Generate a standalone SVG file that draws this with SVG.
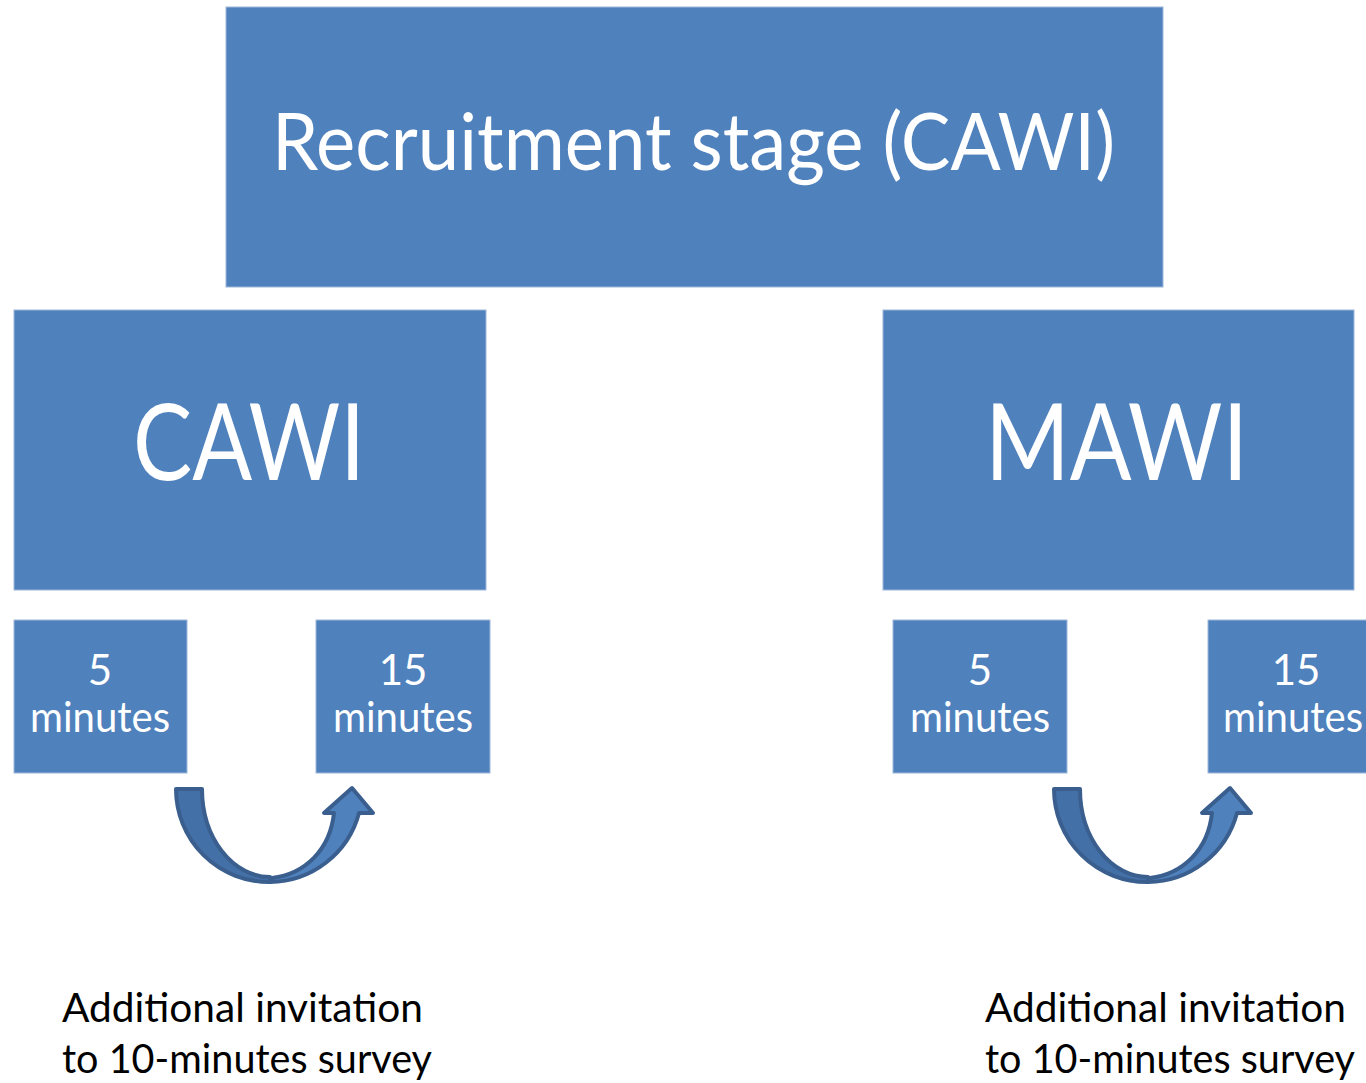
<svg xmlns="http://www.w3.org/2000/svg" width="1366" height="1083" viewBox="0 0 1366 1083">
  <style>
    .box { fill: #4F81BD; stroke: #9DB7DA; stroke-width: 1; }
    .wt { fill: #FFFFFF; font-family: Lato, "Open Sans", "Liberation Sans", sans-serif; }
    .bk { fill: #000000; font-family: Lato, "Open Sans", "Liberation Sans", sans-serif; font-size: 40px; }
    .back { fill: #4470A8; stroke: #3A5F8E; stroke-width: 4; stroke-linejoin: round; }
    .front { fill: #4F81BD; stroke: #3A5F8E; stroke-width: 4; stroke-linejoin: round; }
  </style>
  <defs>
    <!-- curved "up" arrow: back band from the tail, front band to the head -->
    <g id="curvedArrow">
      <path class="back" d="M176,789 L202,789 A68,88 0 0 0 270,877 L270,882 A93,93 0 0 1 176,789 Z"/>
      <path class="front" d="M270,882 A93,93 0 0 0 359,813 L373,813 L352,788 L324,813 L334,813 C330,850 305,874 272,878 Z"/>
    </g>
  </defs>
  <rect width="1366" height="1083" fill="#FFFFFF"/>

  <g id="recruitment">
    <rect class="box" x="226" y="7" width="937" height="280"/>
    <text class="wt" x="272" y="170" font-size="80" textLength="843" lengthAdjust="spacingAndGlyphs">Recruitment stage (CAWI)</text>
  </g>

  <g id="cawi">
    <rect class="box" x="14" y="310" width="472" height="280"/>
    <text class="wt" x="133" y="480" font-size="107" textLength="232" lengthAdjust="spacingAndGlyphs">CAWI</text>
  </g>

  <g id="mawi">
    <rect class="box" x="883" y="310" width="471" height="280"/>
    <text class="wt" x="985" y="480" font-size="107" textLength="263" lengthAdjust="spacingAndGlyphs">MAWI</text>
  </g>

  <g id="cawi-5">
    <rect class="box" x="14" y="620" width="173" height="153"/>
    <text class="wt" x="100" y="685" font-size="42" text-anchor="middle">5</text>
    <text class="wt" x="30" y="732" font-size="42" textLength="140" lengthAdjust="spacingAndGlyphs">minutes</text>
  </g>

  <g id="cawi-15">
    <rect class="box" x="316" y="620" width="174" height="153"/>
    <text class="wt" x="403" y="685" font-size="42" text-anchor="middle">15</text>
    <text class="wt" x="333" y="732" font-size="42" textLength="140" lengthAdjust="spacingAndGlyphs">minutes</text>
  </g>

  <g id="mawi-5">
    <rect class="box" x="893" y="620" width="174" height="153"/>
    <text class="wt" x="980" y="685" font-size="42" text-anchor="middle">5</text>
    <text class="wt" x="910" y="732" font-size="42" textLength="140" lengthAdjust="spacingAndGlyphs">minutes</text>
  </g>

  <g id="mawi-15">
    <rect class="box" x="1208" y="620" width="174" height="153"/>
    <text class="wt" x="1296" y="685" font-size="42" text-anchor="middle">15</text>
    <text class="wt" x="1223" y="732" font-size="42" textLength="140" lengthAdjust="spacingAndGlyphs">minutes</text>
  </g>

  <g id="connectors">
    <use href="#curvedArrow"/>
    <use href="#curvedArrow" transform="translate(878,0)"/>
  </g>

  <g id="cawi-note">
    <text class="bk" x="62" y="1022" textLength="361" lengthAdjust="spacingAndGlyphs">Additional invitation</text>
    <text class="bk" x="62" y="1073" textLength="370" lengthAdjust="spacingAndGlyphs">to 10-minutes survey</text>
  </g>

  <g id="mawi-note">
    <text class="bk" x="985" y="1022" textLength="361" lengthAdjust="spacingAndGlyphs">Additional invitation</text>
    <text class="bk" x="985" y="1073" textLength="370" lengthAdjust="spacingAndGlyphs">to 10-minutes survey</text>
  </g>
</svg>
